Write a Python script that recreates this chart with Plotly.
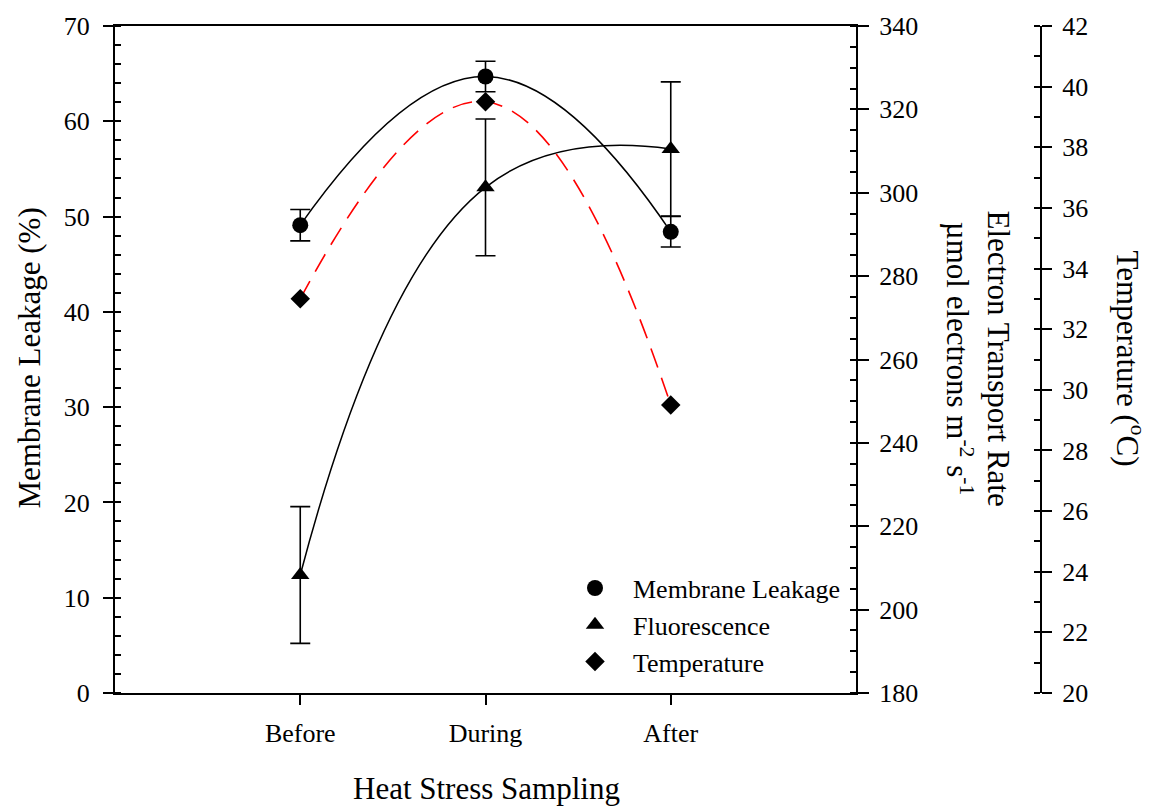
import plotly.graph_objects as go

categories = ["Before", "During", "After"]
cat_pos = [1, 2, 3]

leakage = [49.1, 64.7, 48.4]
leakage_err = [1.65, 1.6, 1.6]

fluor = [208.3, 301.3, 310.5]
fluor_err = [16.4, 16.4, 16.1]

temperature = [33.0, 39.5, 29.5]

FONT = "Liberation Serif, Times New Roman, serif"
L, R, T, B = 115, 60, 23, 114
W, H = 1149, 807
PW = W - L - R
PH = H - T - B


def px2x(px):
    return (px - L) / PW


def px2y(py):
    return (H - B - py) / PH


fig = go.Figure()

fig.add_trace(go.Scatter(
    x=cat_pos, y=leakage, mode="lines+markers", name="Membrane Leakage",
    line=dict(color="black", width=1.5, shape="spline", smoothing=1.3),
    marker=dict(symbol="circle", size=16, color="black"),
    error_y=dict(type="data", array=leakage_err, color="black", thickness=1.6, width=10),
    showlegend=False, yaxis="y", xaxis="x"))

fig.add_trace(go.Scatter(
    x=cat_pos, y=fluor, mode="lines+markers", name="Fluorescence",
    line=dict(color="black", width=1.5, shape="spline", smoothing=1.3),
    marker=dict(symbol="triangle-up", size=16, color="black"),
    error_y=dict(type="data", array=fluor_err, color="black", thickness=1.6, width=10),
    showlegend=False, yaxis="y2", xaxis="x"))

fig.add_trace(go.Scatter(
    x=cat_pos, y=temperature, mode="lines+markers", name="Temperature",
    line=dict(color="red", width=1.6, shape="spline", smoothing=1.3, dash="20px,11px"),
    marker=dict(symbol="diamond", size=15, color="black"),
    showlegend=False, yaxis="y3", xaxis="x"))

# legend-only entries (markers only)
for nm, sym, sz in [("Membrane Leakage", "circle", 16),
                    ("Fluorescence", "triangle-up", 16),
                    ("Temperature", "diamond", 15)]:
    fig.add_trace(go.Scatter(x=[None], y=[None], mode="markers", name=nm,
                             marker=dict(symbol=sym, size=sz, color="black"),
                             showlegend=True))

tickfont = dict(family=FONT, size=26, color="black")

fig.update_layout(
    width=W, height=H,
    margin=dict(l=L, r=R, t=T, b=B),
    paper_bgcolor="white", plot_bgcolor="white",
    font=dict(family=FONT, color="black"),
    xaxis=dict(domain=[0, px2x(856)], range=[0, 4], tickvals=cat_pos, ticktext=categories,
               showline=True, linecolor="black", linewidth=2, mirror=True,
               ticks="outside", ticklen=10, tickwidth=1.5, tickcolor="black",
               showgrid=False, zeroline=False, tickfont=tickfont, ticklabelstandoff=6),
    yaxis=dict(range=[0, 70], dtick=10, showline=True, linecolor="black", linewidth=2,
               ticks="outside", ticklen=10, tickwidth=1.5, tickcolor="black",
               minor=dict(dtick=2, ticks="inside", ticklen=6, tickwidth=1.5, tickcolor="black"),
               showgrid=False, zeroline=False, tickfont=tickfont, ticklabelstandoff=8),
    yaxis2=dict(range=[180, 340], dtick=20, overlaying="y", side="right", anchor="x",
                showline=True, linecolor="black", linewidth=2,
                ticks="outside", ticklen=11, tickwidth=1.5, tickcolor="black",
                minor=dict(dtick=5, ticks="inside", ticklen=6, tickwidth=1.5, tickcolor="black"),
                showgrid=False, zeroline=False, tickfont=tickfont, ticklabelstandoff=5),
    yaxis3=dict(range=[20, 42], dtick=2, overlaying="y", side="right", anchor="free",
                position=px2x(1041),
                showline=True, linecolor="black", linewidth=2,
                ticks="outside", ticklen=10, tickwidth=1.5, tickcolor="black",
                minor=dict(dtick=1, ticks="inside", ticklen=6, tickwidth=1.5, tickcolor="black"),
                showgrid=False, zeroline=False, tickfont=tickfont, ticklabelstandoff=5),
    legend=dict(x=px2x(557), y=px2y(564), xanchor="left", yanchor="top",
                bgcolor="rgba(0,0,0,0)", font=dict(family=FONT, size=26, color="black"),
                itemwidth=66, tracegroupgap=0),
    annotations=[
        dict(text="Membrane Leakage (%)", xref="paper", yref="paper",
             x=px2x(30), y=px2y(357), textangle=-90, showarrow=False,
             xanchor="center", yanchor="middle", font=dict(family=FONT, size=31, color="black")),
        dict(text="Electron Transport Rate<br>µmol electrons m<sup>-2</sup> s<sup>-1</sup>",
             xref="paper", yref="paper", x=px2x(978), y=px2y(357), textangle=90,
             showarrow=False, xanchor="center", yanchor="middle",
             font=dict(family=FONT, size=31, color="black")),
        dict(text="Temperature (<sup>o</sup>C)", xref="paper", yref="paper",
             x=px2x(1130), y=px2y(357), textangle=90, showarrow=False,
             xanchor="center", yanchor="middle", font=dict(family=FONT, size=31, color="black")),
        dict(text="Heat Stress Sampling", xref="paper", yref="paper",
             x=px2x(486), y=px2y(789), showarrow=False,
             xanchor="center", yanchor="middle", font=dict(family=FONT, size=31, color="black")),
    ],
)

fig.write_html("out.html")
